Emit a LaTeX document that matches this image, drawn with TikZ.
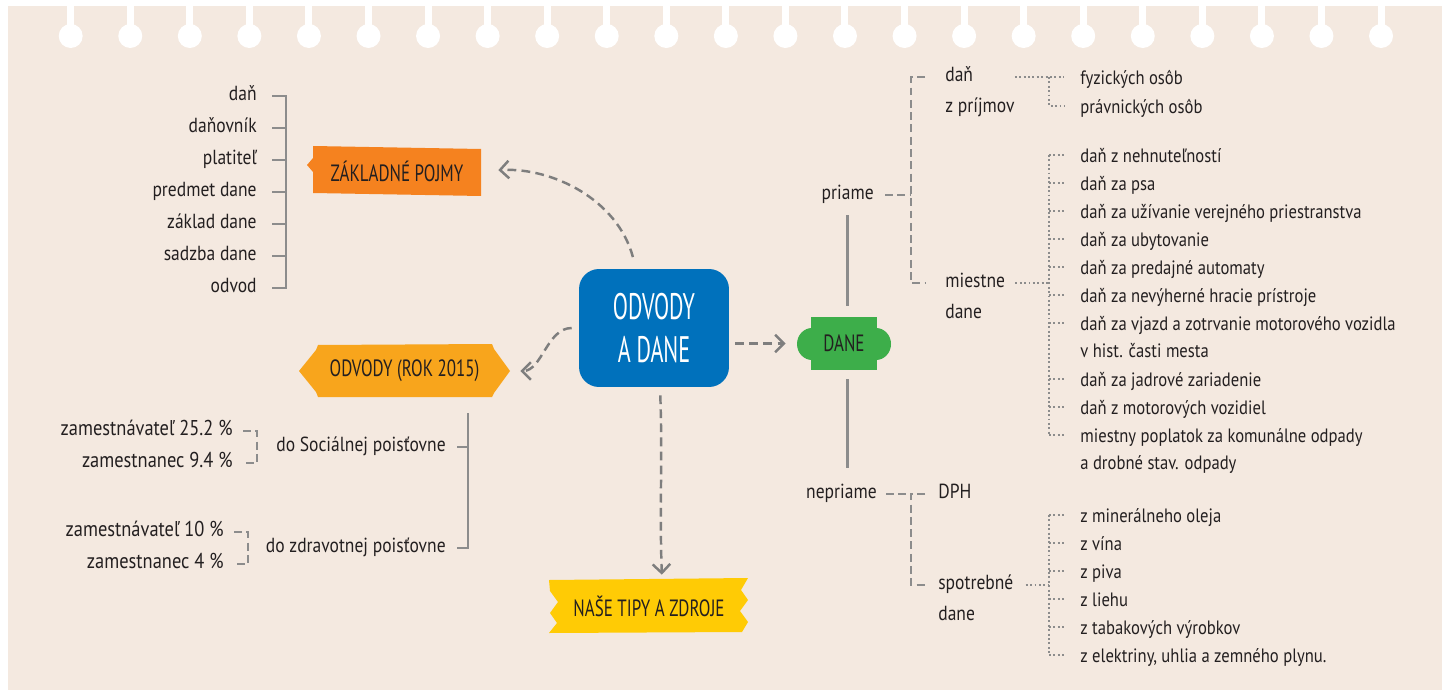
\documentclass[tikz,border=0pt]{standalone}
\usepackage{fontspec}
\setmainfont{PT Sans}[FakeStretch=0.86]
\newfontfamily\bannerfont{PT Sans}[FakeStretch=0.72]
\newfontfamily\titlefont{PT Sans}[FakeStretch=0.6]
\usetikzlibrary{arrows.meta}
\definecolor{paper}{HTML}{F4E9E0}
\definecolor{ink}{HTML}{231F20}
\definecolor{wire}{HTML}{8C8C8C}
\definecolor{hubblue}{HTML}{0071BC}
\definecolor{zporange}{HTML}{F5821F}
\definecolor{odvyellow}{HTML}{F8A51C}
\definecolor{tipyellow}{HTML}{FFCB05}
\definecolor{danegreen}{HTML}{3DAE4A}
% two lines whose baseline is the first one
\newcommand{\pairlines}[2]{\begin{tabular}[t]{@{}l@{}}#1\\#2\end{tabular}}
\tikzset{
  item/.style = {% define a style for the list entries
    inner sep=0pt, text=ink, text height=5.6pt, text depth=0pt,
    font=\fontsize{11.6}{18.1}\selectfont,
  },
  mid/.style = {item, font=\fontsize{11.6}{17.6}\selectfont},
  pct/.style = {item, font=\fontsize{12.2}{18}\selectfont},
  leaf/.style = {item, text height=8pt, font=\fontsize{11}{15.9}\selectfont},
  banner/.style = {inner sep=0pt, text=ink, font=\bannerfont\fontsize{13.4}{15}\selectfont},
  hub/.style = {
    inner sep=0pt, rounded corners=0.4cm, fill=hubblue, text=white, align=center,
    minimum width=3cm, minimum height=2.36cm,
    font=\titlefont\fontsize{21}{24.4}\selectfont,
  },
  solidwire/.style = {draw=wire, line width=1.5pt},
  dashwire/.style = {draw=wire, line width=1.5pt, dash pattern=on 4.5pt off 2.5pt},
  dotwire/.style = {draw=wire, line width=1.1pt, dash pattern=on 1.1pt off 1.4pt},
  flow/.style = {draw=wire!90!black, line width=1.4pt, dash pattern=on 5pt off 3pt,
    -{Straight Barb[length=5pt,width=10pt]}},
}

\begin{document}
\begin{tikzpicture}[x=0.02cm, y=-0.02cm]
  \useasboundingbox (0,0) rectangle (1442,692);
  \fill[paper] (8,6) rectangle (1442,690);
  % punched holes along the top edge
  \foreach \i in {0,...,22} {
    \fill[white] ({70.7+59.56*\i-3.5},0) rectangle ++(7,34);
    \fill[white] ({70.7+59.56*\i},36) circle[radius=0.24cm];
  }

  % basic terms
  \foreach \t [count=\i] in {daň, daňovník, platiteľ, predmet dane, základ dane, sadzba dane, odvod}
    \node[item, anchor=east] (pojem\i) at (257, {64+32*\i}) {\t};
  \coordinate (zpbar) at (286,0);
  \draw[solidwire] ([xshift=0.3cm]pojem1.east) -- (pojem1.east -| zpbar)
    -- (pojem7.east -| zpbar) -- ([xshift=0.3cm]pojem7.east);
  \foreach \i in {2,...,6}
    \draw[solidwire] ([xshift=0.3cm]pojem\i.east) -- (pojem\i.east -| zpbar);
  \fill[zporange] (313,146) -- (481,149) -- (481,196) -- (313,193) -- (313,172)
    -- (307,165) -- (313,158) -- cycle;
  \node[banner, minimum width=3.36cm, minimum height=1cm] (zp) at (397,171) {ZÁKLADNÉ POJMY};

  % centre
  \node[hub] (cen) at (654,328) {ODVODY\\A DANE};

  % dane
  \fill[danegreen] (811,317) rectangle (877,370);
  \fill[danegreen] (812,344) ellipse[x radius=0.3cm, y radius=0.32cm];
  \fill[danegreen] (876,344) ellipse[x radius=0.3cm, y radius=0.32cm];
  \node[banner, minimum width=1.88cm, minimum height=1.06cm] (dane) at (844,343.5) {DANE};

  % odvody
  \fill[odvyellow] (299,371) -- (316,350) -- (318,345) -- (492,344) -- (494,349) -- (510,371)
    -- (494,393) -- (492,397) -- (318,397) -- (316,392) -- cycle;
  \node[banner, minimum width=4.22cm, minimum height=1.04cm] (odv) at (404.5,371) {ODVODY (ROK 2015)};

  % tips
  \fill[tipyellow] (549,580) -- (748,578) -- (741,590) -- (748,600) -- (740,611) -- (748,622)
    -- (742,632) -- (549,633) -- (557,623) -- (550,613) -- (558,602) -- (550,591) -- cycle;
  \node[banner, minimum width=4.04cm, minimum height=1.04cm] (tips) at (649,606) {NAŠE TIPY A ZDROJE};

  % arrows out of the centre
  \draw[flow, shorten <=0.24cm, shorten >=0.34cm] ([xshift=-0.36cm]cen.north) to[out=105, in=3] (zp.east);
  \draw[flow, shorten <=0.14cm, shorten >=0.2cm] (cen.west) to[out=180, in=0] (odv.east);
  \draw[flow, shorten <=0.12cm, shorten >=0.22cm] (cen.east |- dane) -- (dane.west);
  \draw[flow, shorten <=0.16cm, shorten >=0.1cm] ([xshift=0.12cm]cen.south) to[out=-88, in=92] ([xshift=0.26cm]tips.north);

  % odvody branch
  \node[item, anchor=east] (soc) at (446,447) {do Sociálnej poisťovne};
  \node[item, anchor=east] (zdr) at (446,548) {do zdravotnej poisťovne};
  \coordinate (odvbar) at (468,0);
  \draw[solidwire, shorten <=0.32cm] (odv.south -| odvbar) -- (zdr.east -| odvbar) -- ([xshift=0.22cm]zdr.east);
  \draw[solidwire] ([xshift=0.22cm]soc.east) -- (soc.east -| odvbar);
  \node[pct, anchor=east] (sz1) at (233,431) {zamestnávateľ 25.2 \%};
  \node[pct, anchor=east] (sz2) at (233,463) {zamestnanec 9.4 \%};
  \coordinate (socbar) at (257,0);
  \draw[dashwire] ([xshift=0.2cm]sz1.east) -- (sz1.east -| socbar) -- (sz2.east -| socbar) -- ([xshift=0.2cm]sz2.east);
  \node[pct, anchor=east] (zz1) at (224,532) {zamestnávateľ 10 \%};
  \node[pct, anchor=east] (zz2) at (224,564) {zamestnanec 4 \%};
  \coordinate (zdrbar) at (248,0);
  \draw[dashwire] ([xshift=0.2cm]zz1.east) -- (zz1.east -| zdrbar) -- (zz2.east -| zdrbar) -- ([xshift=0.2cm]zz2.east);

  % dane branch
  \node[item, anchor=east] (pri) at (874,195) {priame};
  \node[item, anchor=east] (nep) at (877,494) {nepriame};
  \draw[solidwire, shorten <=0.3cm, shorten >=0.22cm] (pri.south) -- (pri.south |- dane.north);
  \draw[solidwire, shorten <=0.18cm, shorten >=0.42cm] (pri.south |- dane.south) -- (pri.south |- nep.north);

  \coordinate (pribar) at (911,0);
  \node[mid, anchor=west] (dzp) at (945,77) {\pairlines{daň}{z príjmov}};
  \node[mid, anchor=west] (mie) at (945,283) {\pairlines{miestne}{dane}};
  \draw[dashwire, shorten <=0.22cm] (pri.east) -- (pri.east -| pribar);
  \draw[dashwire] ([xshift=-0.4cm]dzp.west) -- (dzp.west -| pribar) -- (mie.west -| pribar) -- ([xshift=-0.4cm]mie.west);
  \node[mid, anchor=west] (dph) at (938,494) {DPH};
  \node[mid, anchor=west] (spo) at (938,585) {\pairlines{spotrebné}{dane}};
  \draw[dashwire, shorten <=0.18cm] (nep.east) -- (nep.east -| pribar);
  \draw[dashwire] ([xshift=-0.26cm]dph.west) -- (dph.west -| pribar) -- (spo.west -| pribar) -- ([xshift=-0.26cm]spo.west);

  % leaves
  \coordinate (dotbar) at (1049,0);
  \node[leaf, anchor=west] (fo) at (1080,77) {fyzických osôb};
  \node[leaf, anchor=west] (po) at (1080,106) {právnických osôb};
  \draw[dotwire] (dzp.east) -- ([xshift=-0.32cm]fo.west);
  \draw[dotwire] (fo.west -| dotbar) -- (po.west -| dotbar) -- ([xshift=-0.32cm]po.west);

  \foreach \t/\y [count=\i] in {daň z nehnuteľností/155, daň za psa/183,
      daň za užívanie verejného priestranstva/211, daň za ubytovanie/239,
      daň za predajné automaty/267, daň za nevýherné hracie prístroje/295,
      {\pairlines{daň za vjazd a zotrvanie motorového vozidla}{v hist. časti mesta}}/323,
      daň za jadrové zariadenie/379, daň z motorových vozidiel/407,
      {\pairlines{miestny poplatok za komunálne odpady}{a drobné stav. odpady}}/435}
    \node[leaf, anchor=west] (md\i) at (1080,\y) {\t};
  \draw[dotwire] (md1.west -| dotbar) -- (md10.west -| dotbar);
  \foreach \i in {1,...,10}
    \draw[dotwire] (md\i.west -| dotbar) -- ([xshift=-0.32cm]md\i.west);
  \draw[dotwire, shorten <=0.2cm] (mie.east) -- (mie.east -| dotbar);

  \foreach \t [count=\i] in {z minerálneho oleja, z vína, z piva, z liehu,
      z tabakových výrobkov, {z elektriny, uhlia a zemného plynu.}}
    \node[leaf, anchor=west] (sd\i) at (1080, {487+28*\i}) {\t};
  \draw[dotwire] (sd1.west -| dotbar) -- (sd6.west -| dotbar);
  \foreach \i in {1,...,6}
    \draw[dotwire] (sd\i.west -| dotbar) -- ([xshift=-0.32cm]sd\i.west);
  \draw[dotwire, shorten <=0.24cm] (spo.east) -- (spo.east -| dotbar);
\end{tikzpicture}
\end{document}
